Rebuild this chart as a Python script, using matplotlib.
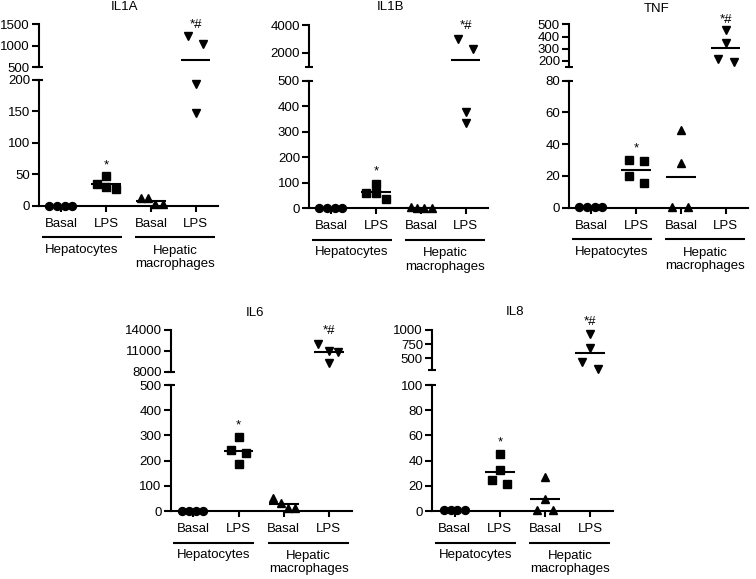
import matplotlib
matplotlib.use('Agg')
import matplotlib.pyplot as plt
import numpy as np
from matplotlib.transforms import blended_transform_factory, ScaledTranslation

plt.rcParams['font.family'] = ['Liberation Sans', 'DejaVu Sans']

# ---------------- data ----------------
conditions = ['Basal', 'LPS', 'Basal', 'LPS']
cell_types = ['Hepatocytes', 'Hepatic\nmacrophages']

il1a_hep_basal = [0, 0, 0, 0]
il1a_hep_lps = [35, 47.7, 29.7, 26.5]
il1a_mac_basal = [13, 13, 2, 2]
il1a_mac_lps = [1230, 1043, 194, 148]

il1b_hep_basal = [0, 0, 0, 0]
il1b_hep_lps = [60, 94, 58.7, 37.9]
il1b_mac_basal = [5, 3, 1, 0.5]
il1b_mac_lps = [2988, 2259, 379, 333]

tnf_hep_basal = [0.5, 0.5, 0.5, 0.5]
tnf_hep_lps = [29.8, 29.2, 19.7, 15.5]
tnf_mac_basal = [49, 28.3, 0.6, 0.6]
tnf_mac_lps = [454, 345, 219, 195]

il6_hep_basal = [0, 0, 0, 0]
il6_hep_lps = [293, 242, 230, 185.5]
il6_mac_basal = [52, 30, 12, 12]
il6_mac_lps = [11952, 11000, 10905, 9238]

il8_hep_basal = [0.8, 0.8, 0.8, 0.8]
il8_hep_lps = [45, 32.9, 25, 21.8]
il8_mac_basal = [27, 9.5, 0.8, 0.8]
il8_mac_lps = [929, 679, 440, 310]

# axis segments (lower, upper) and tick labels
il1a_low, il1a_low_ticks = (0, 200), [0, 50, 100, 150, 200]
il1a_high, il1a_high_ticks = (500, 1500), [500, 1000, 1500]
il1b_low, il1b_low_ticks = (0, 500), [0, 100, 200, 300, 400, 500]
il1b_high, il1b_high_ticks = (1000, 4000), [2000, 4000]
tnf_low, tnf_low_ticks = (0, 80), [0, 20, 40, 60, 80]
tnf_high, tnf_high_ticks = (150, 500), [200, 300, 400, 500]
il6_low, il6_low_ticks = (0, 500), [0, 100, 200, 300, 400, 500]
il6_high, il6_high_ticks = (8000, 14000), [8000, 11000, 14000]
il8_low, il8_low_ticks = (0, 100), [0, 20, 40, 60, 80, 100]
il8_high, il8_high_ticks = (300, 1000), [500, 750, 1000]

# significance marks: (group index, text, y value)
il1a_sig = [(1, '*', 69), (3, '*#', 1547)]
il1b_sig = [(1, '*', 157), (3, '*#', 4165)]
tnf_sig = [(1, '*', 39), (3, '*#', 563)]
il6_sig = [(1, '*', 352), (3, '*#', 14333)]
il8_sig = [(1, '*', 57), (3, '*#', 1190)]

# ---------------- layout (pixels) ----------------
W, H = 756, 579
FS = 9.5
LW = 1.5

layouts = {
    'IL1A': dict(x=(39, 218), top=(24.3, 67), bot=(80, 205.7), title=(125, 7.5)),
    'IL1B': dict(x=(309, 488), top=(25, 66.5), bot=(80.7, 208.3), title=(390, 7.5)),
    'TNF': dict(x=(569, 748), top=(24.3, 67.1), bot=(80.7, 207.7), title=(656.7, 8.5)),
    'IL6': dict(x=(170.7, 351.5), top=(330, 371.7), bot=(385, 511), title=(255, 313)),
    'IL8': dict(x=(432, 613), top=(330, 369.6), bot=(385, 511), title=(515, 312)),
}

jitter = {
    'IL1A': [[-0.27, -0.10, 0.07, 0.24], [-0.21, 0, 0, 0.21], [-0.22, -0.06, 0.10, 0.27], [-0.165, 0.165, 0, 0]],
    'IL1B': [[-0.27, -0.10, 0.07, 0.24], [-0.22, 0, 0, 0.22], [-0.22, -0.08, 0.08, 0.24], [-0.17, 0.17, 0, 0]],
    'TNF': [[-0.27, -0.10, 0.07, 0.24], [-0.17, 0.17, -0.17, 0.17], [0, 0, -0.19, 0.17], [0, 0, -0.17, 0.19]],
    'IL6': [[-0.24, -0.09, 0.06, 0.22], [0, -0.17, 0.17, 0], [-0.24, -0.07, 0.10, 0.24], [-0.24, 0, 0.21, 0]],
    'IL8': [[-0.24, -0.09, 0.06, 0.22], [0, 0, -0.17, 0.16], [0, 0, -0.18, 0.17], [0, 0, -0.18, 0.17]],
}

markers = ['o', 's', '^', 'v']
msizes = [5.7, 5.4, 6.0, 6.0]

fig = plt.figure(figsize=(W / 100, H / 100), dpi=100)


def rect(x0, x1, yt, yb):
    return [x0 / W, 1 - yb / H, (x1 - x0) / W, (yb - yt) / H]


def below(ax, dy):
    return blended_transform_factory(ax.transData, ax.transAxes) + \
        ScaledTranslation(0, -dy / 100, fig.dpi_scale_trans)


def draw_panel(name, series, low, low_ticks, high, high_ticks, sig):
    lay = layouts[name]
    x0, x1 = lay['x']
    ax_t = fig.add_axes(rect(x0, x1, *lay['top']))
    ax_b = fig.add_axes(rect(x0, x1, *lay['bot']))
    for ax, lim, ticks in ((ax_t, high, high_ticks), (ax_b, low, low_ticks)):
        ax.set_xlim(0.5, 4.5)
        ax.set_ylim(*lim)
        ax.set_yticks(ticks)
        ax.set_yticklabels([f'{t:g}' for t in ticks])
        ax.patch.set_visible(False)
        for s in ('top', 'right'):
            ax.spines[s].set_visible(False)
        ax.spines['left'].set_linewidth(LW)
        ax.tick_params(axis='y', direction='out', length=5, width=LW, pad=1.5,
                       labelsize=FS)
    ax_t.spines['bottom'].set_visible(False)
    ax_t.set_xticks([])
    ax_b.spines['bottom'].set_linewidth(LW)
    ax_b.set_xticks([1, 2, 3, 4])
    ax_b.set_xticklabels([])
    ax_b.tick_params(axis='x', direction='out', length=4, width=LW)
    # break caps
    ax_t.plot([0], [0], transform=ax_t.transAxes, marker='_', ms=6, mew=LW,
              color='k', clip_on=False)
    ax_b.plot([0], [1], transform=ax_b.transAxes, marker='_', ms=6, mew=LW,
              color='k', clip_on=False)

    offs = jitter[name]
    for gi, vals in enumerate(series):
        vals = np.asarray(vals, float)
        xs = gi + 1 + np.asarray(offs[gi])
        m = vals.mean()
        for ax, lim in ((ax_t, high), (ax_b, low)):
            sel = (vals >= lim[0]) & (vals <= lim[1])
            if sel.any():
                ax.plot(xs[sel], vals[sel], linestyle='none', marker=markers[gi],
                        ms=msizes[gi], color='k', clip_on=False, zorder=3)
            if lim[0] <= m <= lim[1]:
                ax.plot([gi + 1 - 0.33, gi + 1 + 0.33], [m, m], color='k', lw=LW,
                        solid_capstyle='butt', zorder=2)
    for gi, txt, yv in sig:
        ax = ax_b if yv <= low[1] else ax_t
        ax.annotate(txt, (gi + 1, yv), xytext=(0, -3), textcoords='offset pixels',
                    ha='center', va='center', fontsize=FS, annotation_clip=False)

    for i, c in enumerate(conditions):
        ax_b.text(i + 1, 0, c, transform=below(ax_b, 18), ha='center', va='center',
                  fontsize=FS)
    for (a, b) in ((0.56, 2.35), (2.65, 4.44)):
        ax_b.plot([a, b], [0, 0], transform=below(ax_b, 31.5), color='k', lw=LW,
                  clip_on=False, solid_capstyle='butt')
    ax_b.text(1.46, 0, cell_types[0], transform=below(ax_b, 43.8), ha='center',
              va='center', fontsize=FS)
    ax_b.text(3.55, 0, cell_types[1], transform=below(ax_b, 51.6), ha='center',
              va='center', fontsize=FS, linespacing=1.15)
    tx, ty = lay['title']
    fig.text(tx / W, 1 - ty / H, name, ha='center', va='center', fontsize=FS)


draw_panel('IL1A', [il1a_hep_basal, il1a_hep_lps, il1a_mac_basal, il1a_mac_lps],
           il1a_low, il1a_low_ticks, il1a_high, il1a_high_ticks, il1a_sig)
draw_panel('IL1B', [il1b_hep_basal, il1b_hep_lps, il1b_mac_basal, il1b_mac_lps],
           il1b_low, il1b_low_ticks, il1b_high, il1b_high_ticks, il1b_sig)
draw_panel('TNF', [tnf_hep_basal, tnf_hep_lps, tnf_mac_basal, tnf_mac_lps],
           tnf_low, tnf_low_ticks, tnf_high, tnf_high_ticks, tnf_sig)
draw_panel('IL6', [il6_hep_basal, il6_hep_lps, il6_mac_basal, il6_mac_lps],
           il6_low, il6_low_ticks, il6_high, il6_high_ticks, il6_sig)
draw_panel('IL8', [il8_hep_basal, il8_hep_lps, il8_mac_basal, il8_mac_lps],
           il8_low, il8_low_ticks, il8_high, il8_high_ticks, il8_sig)

fig.savefig('out.png', dpi=100, facecolor='white')
